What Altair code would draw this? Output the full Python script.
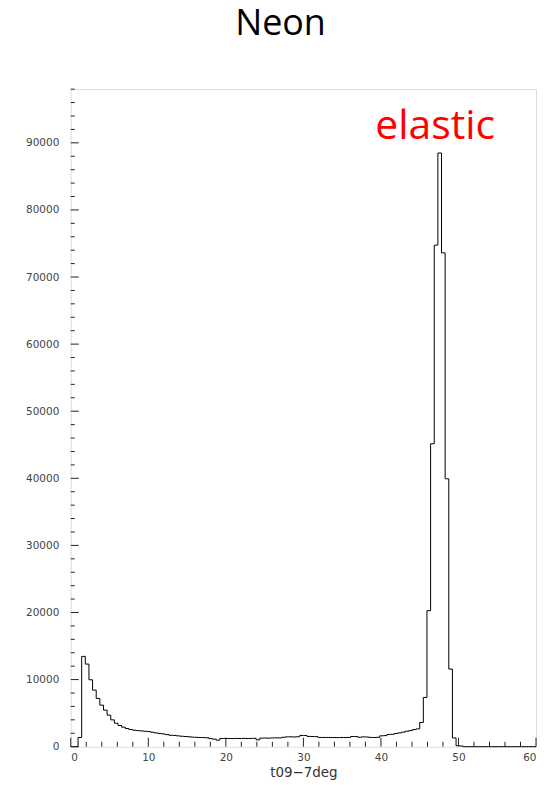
import altair as alt
import pandas as pd

# ---- data ----
N_BINS = 128
X_MIN, X_MAX = 0, 60
Y_MAX = 98000

counts = [
    0, 0, 1370, 13460, 12310, 9970, 8430, 7190, 6190, 5450,
    4700, 4000, 3500, 3160, 2910, 2710, 2560, 2450, 2400, 2350,
    2300, 2250, 2150, 2050, 1970, 1900, 1800, 1700, 1680, 1620,
    1560, 1520, 1480, 1420, 1400, 1370, 1360, 1330, 1200, 1120,
    970, 1220, 1230, 1220, 1210, 1230, 1220, 1240, 1220, 1230,
    1250, 1020, 1270, 1290, 1270, 1300, 1320, 1310, 1400, 1460,
    1470, 1450, 1480, 1670, 1660, 1530, 1520, 1500, 1380, 1370,
    1380, 1360, 1370, 1350, 1370, 1360, 1380, 1520, 1510, 1400,
    1460, 1450, 1380, 1370, 1400, 1620, 1650, 1820, 1850, 1970,
    2050, 2170, 2300, 2400, 2550, 2650, 3610, 7340, 20270, 45150,
    74750, 88480, 73600, 39930, 11570, 1300, 150, 100, 0, 0,
    0, 0, 0, 0, 0, 0, 0, 0, 0, 0,
    0, 0, 0, 0, 0, 0, 0, 0,
]

x_major = [0, 10, 20, 30, 40, 50, 60]
x_minor = [v for v in range(2, 60, 2) if v % 10]
y_major = [0, 10000, 20000, 30000, 40000, 50000, 60000, 70000, 80000, 90000]
y_minor = [v for v in range(2000, Y_MAX + 1, 2000) if v % 10000]

annot_text = ["elastic"]
annot_x = [47.0]
annot_y = [90500]

title_text = "Neon"
x_title = "t09\u22127deg"

# ---- build tables ----
bw = (X_MAX - X_MIN) / N_BINS
edges = [X_MIN + k * bw for k in range(N_BINS + 1)]
hist = pd.DataFrame({"x": edges, "count": counts + [counts[-1]]})

xs = alt.Scale(domain=[X_MIN, X_MAX], nice=False, zero=False)
ys = alt.Scale(domain=[0, Y_MAX], nice=False, zero=True)

x_axis = alt.Axis(
    values=x_major, ticks=False, domain=False, grid=False,
    labelFont="DejaVu Sans", labelFontSize=10.5, labelColor="#444",
    labelPadding=6, title=x_title, titleFont="DejaVu Sans",
    titleFontSize=13.5, titleFontWeight="normal", titleColor="#333",
    titleBaseline="alphabetic", titleY=30,
)
y_axis = alt.Axis(
    values=y_major, ticks=False, domain=False, grid=False, format="d",
    labelFont="DejaVu Sans", labelFontSize=10.5, labelColor="#444",
    labelPadding=12, title=None,
)

W, H = 467, 660

line = alt.Chart(hist).mark_line(
    interpolate="step-after", color="black", strokeWidth=1
).encode(
    x=alt.X("x:Q", scale=xs, axis=x_axis, title=x_title),
    y=alt.Y("count:Q", scale=ys, axis=y_axis, title=None),
)

xmaj = alt.Chart(pd.DataFrame({"x": x_major})).mark_rule(color="#222", strokeWidth=1).encode(
    x=alt.X("x:Q", scale=xs, axis=x_axis, title=x_title), y=alt.value(H), y2=alt.value(H - 9))
xmin = alt.Chart(pd.DataFrame({"x": x_minor})).mark_rule(color="#222", strokeWidth=1).encode(
    x=alt.X("x:Q", scale=xs, axis=x_axis, title=x_title), y=alt.value(H), y2=alt.value(H - 5))
ymaj = alt.Chart(pd.DataFrame({"count": y_major})).mark_rule(color="#222", strokeWidth=1).encode(
    y=alt.Y("count:Q", scale=ys, axis=y_axis, title=None), x=alt.value(0), x2=alt.value(8))
ymin = alt.Chart(pd.DataFrame({"count": y_minor})).mark_rule(color="#222", strokeWidth=1).encode(
    y=alt.Y("count:Q", scale=ys, axis=y_axis, title=None), x=alt.value(0), x2=alt.value(4))

annot = alt.Chart(pd.DataFrame({"x": annot_x, "count": annot_y, "t": annot_text})).mark_text(
    font="Open Sans", fontSize=41, color="#ff0000", align="center", baseline="alphabetic"
).encode(
    x=alt.X("x:Q", scale=xs, axis=x_axis, title=x_title),
    y=alt.Y("count:Q", scale=ys, axis=y_axis, title=None),
    text="t:N",
)

chart = alt.layer(line, xmin, xmaj, ymin, ymaj, annot).properties(
    width=W, height=H,
    title=alt.TitleParams(text=title_text, font="Open Sans", fontSize=36,
                          fontWeight="normal", color="black", anchor="middle",
                          baseline="alphabetic", offset=18, dx=-23),
    autosize="none",
    padding={"left": 63, "top": 80, "right": 5, "bottom": 37},
).configure_view(stroke="black", strokeWidth=1).configure(background="white")

chart.save("out.html", embed_options={"renderer": "svg", "actions": False})
